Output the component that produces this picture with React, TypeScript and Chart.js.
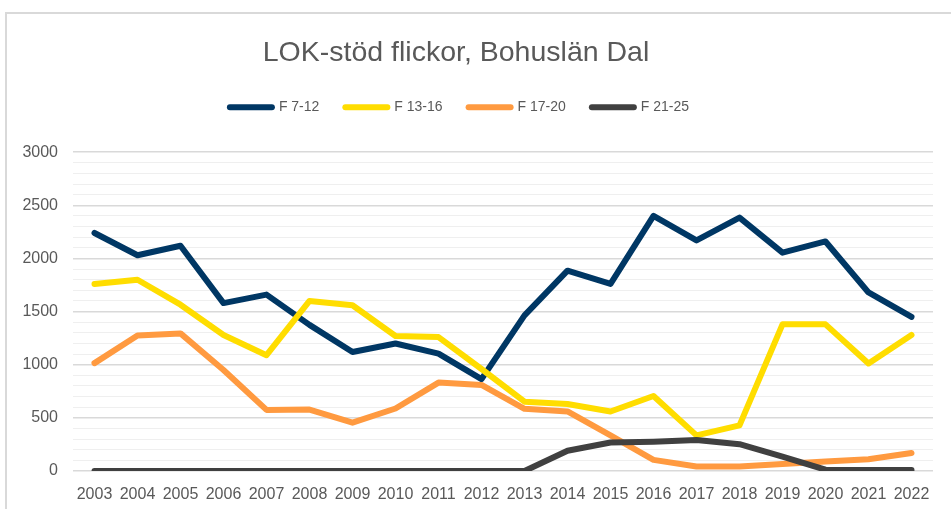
import React, { useEffect, useRef } from 'react';
import { Chart, registerables } from 'chart.js';

Chart.register(...registerables);

const years = ['2003', '2004', '2005', '2006', '2007', '2008', '2009', '2010', '2011', '2012', '2013', '2014', '2015', '2016', '2017', '2018', '2019', '2020', '2021', '2022'];
const f7_12 = [2240, 2030, 2120, 1580, 1660, 1375, 1120, 1200, 1105, 865, 1465, 1885, 1760, 2400, 2170, 2385, 2055, 2160, 1680, 1450];
const f13_16 = [1760, 1800, 1565, 1280, 1090, 1600, 1560, 1270, 1260, 960, 652, 630, 560, 706, 335, 430, 1380, 1380, 1012, 1280];
const f17_20 = [1015, 1275, 1295, 950, 575, 578, 455, 588, 832, 810, 585, 560, 335, 105, 42, 42, 66, 90, 110, 170];
const f21_25 = [0, 0, 0, 0, 0, 0, 0, 0, 0, 0, 0, 190, 268, 276, 292, 252, 135, 12, 10, 10];

const seriesNames = ['F 7-12', 'F 13-16', 'F 17-20', 'F 21-25'];
const seriesColors = ['#003764', '#FFDD00', '#FF9A40', '#404040'];
const yTicksMajor = 500;

export default function App() {
  const ref = useRef<HTMLCanvasElement | null>(null);

  useEffect(() => {
    if (!ref.current) return;
    const values = [f7_12, f13_16, f17_20, f21_25];
    const textColor = '#595959';
    const layoutFix = {
      id: 'layoutFix',
      beforeInit(chart: any) {
        const legend = chart.legend;
        if (legend) {
          const orig = legend.fit;
          legend.fit = function () {
            orig.call(this);
            this.height = 78;
          };
        }
      },
      afterLayout(chart: any) {
        if (chart.titleBlock) {
          chart.titleBlock.left = 0;
          chart.titleBlock.right = 912;
          chart.titleBlock.width = 912;
        }
        if (chart.legend) {
          chart.legend.left = 0;
          chart.legend.right = 919;
          chart.legend.width = 919;
        }
      },
    };
    const chart = new Chart(ref.current, {
      type: 'line',
      data: {
        labels: years,
        datasets: values.map((v, i) => ({
          label: seriesNames[i],
          data: v,
          borderColor: seriesColors[i],
          backgroundColor: seriesColors[i],
          borderWidth: 6,
          borderCapStyle: 'round' as const,
          borderJoinStyle: 'round' as const,
          pointRadius: 0,
          pointHoverRadius: 0,
          tension: 0,
          fill: false,
          order: 4 - i,
        })),
      },
      options: {
        animation: false,
        responsive: false,
        maintainAspectRatio: false,
        layout: { padding: { left: 0, right: 18, top: 0, bottom: 0 } },
        plugins: {
          tooltip: { enabled: false },
          title: {
            display: true,
            text: 'LOK-stöd flickor, Bohuslän Dal',
            color: textColor,
            font: { family: 'Liberation Sans, Arial, sans-serif', size: 28.5, weight: 'normal', lineHeight: 1.2 },
            padding: { top: 36, bottom: 4 },
          },
          legend: {
            display: true,
            position: 'top',
            labels: {
              color: textColor,
              font: { family: 'Liberation Sans, Arial, sans-serif', size: 14 },
              usePointStyle: true,
              pointStyleWidth: 42,
              boxHeight: 6,
              padding: 26,
              generateLabels: (c: any) =>
                c.data.datasets.map((ds: any, i: number) => ({
                  text: ds.label,
                  fillStyle: ds.borderColor,
                  strokeStyle: ds.borderColor,
                  lineWidth: 6,
                  lineCap: 'round',
                  pointStyle: 'line',
                  fontColor: textColor,
                  hidden: false,
                  datasetIndex: i,
                })),
            },
          },
        },
        scales: {
          x: {
            offset: true,
            grid: { display: false, offset: true },
            border: { display: false },
            ticks: {
              color: textColor,
              font: { family: 'Liberation Sans, Arial, sans-serif', size: 16 },
              autoSkip: false,
              maxRotation: 0,
              padding: 6,
            },
            afterFit(scale: any) {
              scale.height = 38;
            },
          },
          y: {
            min: 0,
            max: 3000,
            border: { display: false },
            grid: {
              drawTicks: false,
              color: (ctx: any) => (ctx.tick && ctx.tick.value % yTicksMajor === 0 ? '#D9D9D9' : '#EFEFEF'),
              lineWidth: (ctx: any) => (ctx.tick && ctx.tick.value % yTicksMajor === 0 ? 1.5 : 1),
            },
            ticks: {
              stepSize: 100,
              autoSkip: false,
              color: textColor,
              font: { family: 'Liberation Sans, Arial, sans-serif', size: 16 },
              padding: 15,
              callback: (v: any) => (Number(v) % yTicksMajor === 0 ? String(v) : ''),
            },
            afterFit(scale: any) {
              scale.width = 73;
            },
          },
        },
      },
      plugins: [layoutFix],
    });
    return () => chart.destroy();
  }, []);

  return (
    <div style={{ position: 'fixed', left: 0, top: 0, width: 951, height: 509, background: '#fff', overflow: 'hidden' }}>
      <div
        style={{
          position: 'absolute',
          left: 5,
          top: 12,
          width: 960,
          height: 520,
          borderLeft: '2px solid #D9D9D9',
          borderTop: '2px solid #D9D9D9',
        }}
      />
      <canvas ref={ref} width={951} height={509} style={{ position: 'absolute', left: 0, top: 0, width: 951, height: 509 }} />
    </div>
  );
}
